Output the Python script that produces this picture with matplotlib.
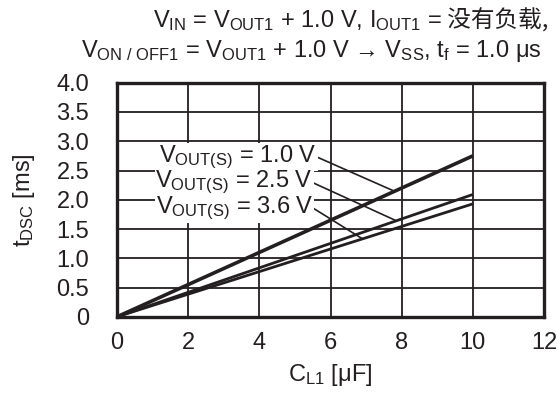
import matplotlib
matplotlib.use("Agg")
import matplotlib.pyplot as plt

# data (straight lines through the origin)
cap_uf = [0.0, 10.0]
tdsc_1v0 = [0.0, 2.75]
tdsc_2v5 = [0.0, 2.09]
tdsc_3v6 = [0.0, 1.93]
vout_labels = ["1.0", "2.5", "3.6"]

x_ticks = [0, 2, 4, 6, 8, 10, 12]
y_ticks = [0, 0.5, 1.0, 1.5, 2.0, 2.5, 3.0, 3.5, 4.0]
y_tick_labels = ["0", "0.5", "1.0", "1.5", "2.0", "2.5", "3.0", "3.5", "4.0"]

plt.rcParams["font.family"] = ["Liberation Sans", "Noto Sans CJK SC", "DejaVu Sans"]
plt.rcParams["mathtext.fontset"] = "custom"
plt.rcParams["mathtext.rm"] = "Liberation Sans"
plt.rcParams["mathtext.it"] = "Liberation Sans"

fs = 17
ink = "#231f20"
fig = plt.figure(figsize=(5.58, 3.94), dpi=100)
ax = fig.add_axes([0.2097, 0.196, 0.7652, 0.594])

series = [tdsc_1v0, tdsc_2v5, tdsc_3v6]
widths = [2.6, 2.0, 2.0]
for ys, lw in zip(series, widths):
    ax.plot(cap_uf, ys, color=ink, lw=lw, solid_capstyle="butt", zorder=3)

ax.set_xlim(0, 12)
ax.set_ylim(0, 4)
ax.set_xticks(x_ticks)
ax.set_yticks(y_ticks)
ax.set_yticklabels(y_tick_labels)
ax.tick_params(axis="y", length=0, labelsize=fs, pad=20, colors=ink)
ax.tick_params(axis="x", length=0, labelsize=fs, pad=11, colors=ink)
ax.grid(True, color=ink, lw=1.3)
ax.set_axisbelow(True)
for sp in ax.spines.values():
    sp.set_linewidth(2.4)
    sp.set_color(ink)

# labels with leader lines
label_at = [(5.62, 2.73), (5.51, 2.29), (5.53, 1.85)]
leader_x = [7.8, 7.85, 6.9]
for lab, ys, (tx, ty), lx in zip(vout_labels, series, label_at, leader_x):
    ly = ys[1] * lx / cap_uf[1]
    ax.plot([tx, lx], [ty, ly], color=ink, lw=1.2, zorder=4)
    ax.text(tx, ty, r"$\mathregular{V_{OUT(S)}}$ = " + lab + " V", fontsize=fs,
            ha="right", va="center", zorder=5, color=ink,
            bbox=dict(facecolor="white", edgecolor="none", pad=0.5))

ax.set_ylabel(r"$\mathregular{t_{DSC}}$ [ms]", fontsize=fs, labelpad=14, color=ink)
ax.set_xlabel(r"$\mathregular{C_{L1}}$ [μF]", fontsize=fs, labelpad=6, color=ink)

# header, line 1 split so the CJK part uses a CJK font
cjk = fig.text(0.982, 0.931, " 没有负载,", fontsize=fs, ha="right", va="baseline",
               family=["Noto Sans CJK SC"], color=ink)
fig.canvas.draw()
ax.annotate(r"$\mathregular{V_{IN}}$ = $\mathregular{V_{OUT1}}$ + 1.0 V, $\mathregular{I_{OUT1}}$ =",
            xy=(0, 0.931), xycoords=(cjk, "figure fraction"), color=ink,
            ha="right", va="baseline", fontsize=fs, annotation_clip=False)
fig.text(0.97, 0.855,
         r"$\mathregular{V_{ON\ /\ OFF1}}$ = $\mathregular{V_{OUT1}}$ + 1.0 V → $\mathregular{V_{SS}}$, $\mathregular{t_f}$ = 1.0 μs",
         fontsize=fs, ha="right", va="baseline", color=ink)

fig.savefig("out.png", dpi=100)
